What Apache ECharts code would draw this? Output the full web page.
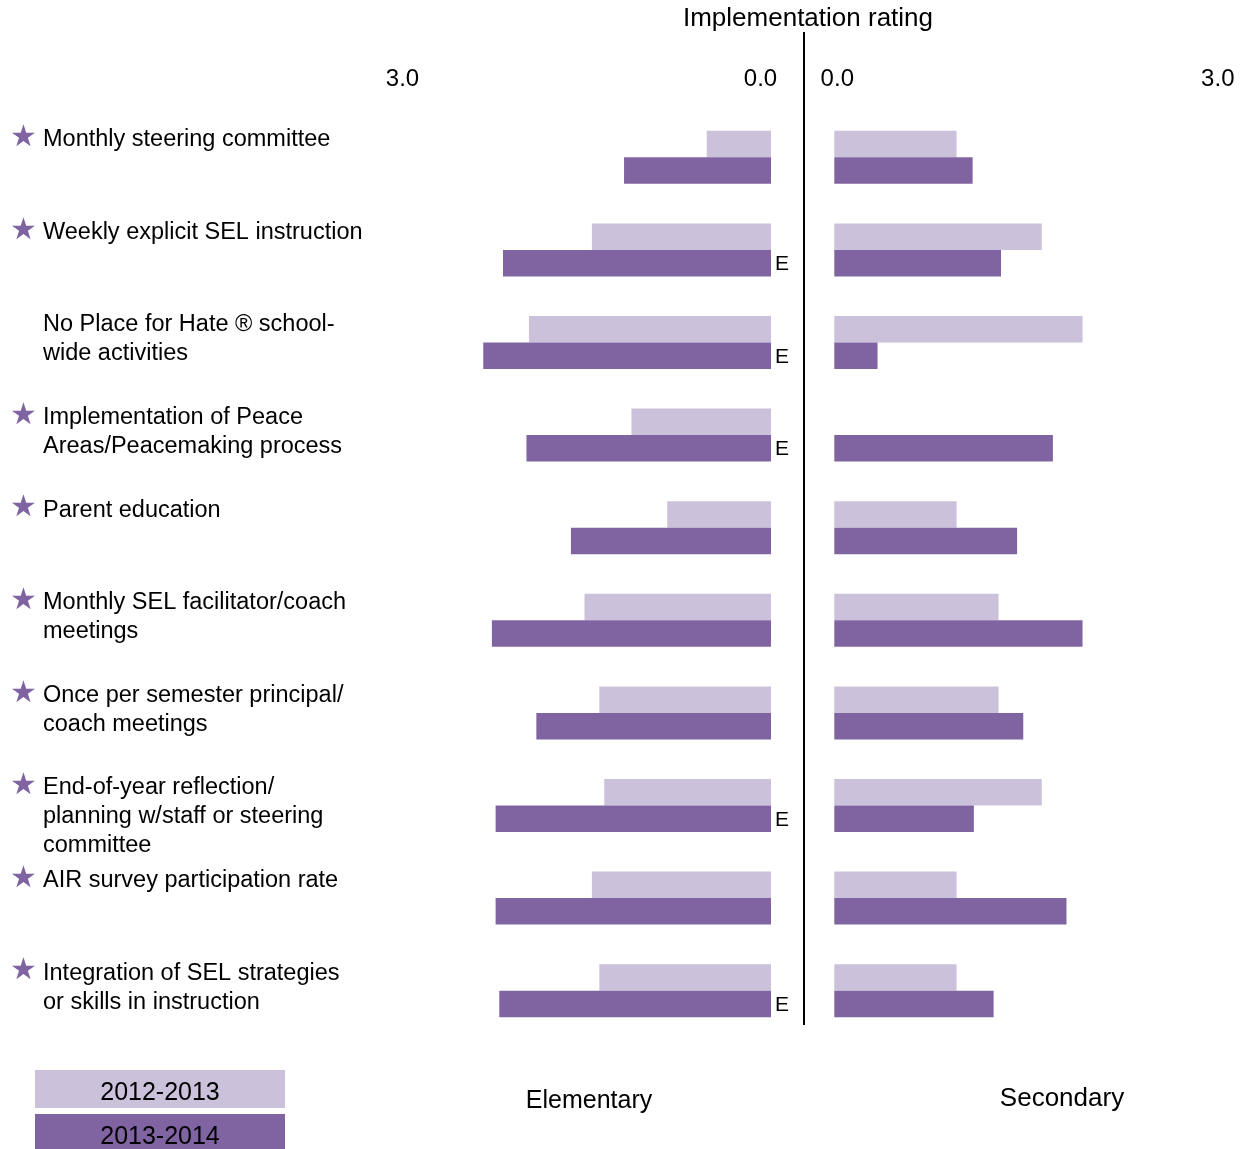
<!DOCTYPE html>
<html>
<head>
<meta charset="utf-8">
<script src="https://cdn.jsdelivr.net/npm/echarts@6/dist/echarts.min.js"></script>
<style>
html,body{margin:0;padding:0;background:#fff;}
#chart{width:1243px;height:1149px;}
</style>
</head>
<body>
<div id="chart"></div>
<script>
// ---- data ----
const categories = [
  'Monthly steering committee',
  'Weekly explicit SEL instruction',
  'No Place for Hate \u00ae school-\nwide activities',
  'Implementation of Peace\nAreas/Peacemaking process',
  'Parent education',
  'Monthly SEL facilitator/coach\nmeetings',
  'Once per semester principal/\ncoach meetings',
  'End-of-year reflection/\nplanning w/staff or steering\ncommittee',
  'AIR survey participation rate',
  'Integration of SEL strategies\nor skills in instruction'
];
const starred = [true, true, false, true, true, true, true, true, true, true];
const seriesNames = ['2012-2013', '2013-2014'];
const elementary2012 = [0.52, 1.45, 1.96, 1.13, 0.84, 1.51, 1.39, 1.35, 1.45, 1.39];
const elementary2013 = [1.19, 2.17, 2.33, 1.98, 1.62, 2.26, 1.90, 2.23, 2.23, 2.20];
const secondary2012 = [0.99, 1.68, 2.01, 0, 0.99, 1.33, 1.33, 1.68, 0.99, 0.99];
const secondary2013 = [1.12, 1.35, 0.35, 1.77, 1.48, 2.01, 1.53, 1.13, 1.88, 1.29];
const elementaryNotes = ['', 'E', 'E', 'E', '', '', '', 'E', '', 'E'];
const axisMin = 0, axisMax = 3;
const titleText = 'Implementation rating';
const panelNames = ['Elementary', 'Secondary'];

// ---- styles ----
const FONT = 'Liberation Sans';
const LIGHT = '#cbc1da';
const DARK = '#8064a2';

const chart = echarts.init(document.getElementById('chart'), null, {renderer: 'canvas'});

function tickFmt(side) {
  return function (v) {
    const s = Number(v).toFixed(1);
    return (v === axisMin ? '{' + side + 'min|' : '{' + side + 'max|') + s + '}';
  };
}
const tickBase = {fontFamily: FONT, fontSize: 24, color: '#000'};

function catLabel(value, index) {
  const lines = String(value).split('\n');
  return lines.map((ln, i) => (i === 0 && starred[index] ? '{s|\u2605}' : '{h|\u2605}') + '{t|' + ln + '}').join('\n');
}

const barCommon = {type: 'bar', barWidth: 26.5, barGap: '0%'};

function legendFor(idx, top, bg) {
  return {
    orient: 'vertical', left: 25, top: top, itemWidth: 0, itemHeight: 0,
    selectedMode: false, data: [seriesNames[idx]],
    itemStyle: {opacity: 0},
    formatter: name => '{a|' + name + '}',
    textStyle: {
      rich: {
        a: {width: 250, height: 30, lineHeight: 30, padding: [8, 0, 0, 0], align: 'center', backgroundColor: bg, fontFamily: FONT, fontSize: 25, color: '#000'}
      }
    }
  };
}

const option = {
  animation: false,
  backgroundColor: '#fff',
  grid: [
    {left: 400.5, top: 111, width: 370.5, height: 926, outerBoundsMode: 'none'},
    {left: 834.3, top: 111, width: 370.5, height: 926, outerBoundsMode: 'none'},
    {left: 400, top: 79, width: 10, height: 926, outerBoundsMode: 'none'}
  ],
  xAxis: [
    {gridIndex: 0, type: 'value', inverse: true, min: axisMin, max: axisMax, interval: 3, position: 'top',
      axisLine: {show: false}, axisTick: {show: false}, splitLine: {show: false},
      axisLabel: {margin: 20, formatter: tickFmt('l'),
        rich: {lmin: Object.assign({padding: [0, 21, 0, 0]}, tickBase), lmax: Object.assign({padding: [0, 0, 0, 4]}, tickBase)}}},
    {gridIndex: 1, type: 'value', min: axisMin, max: axisMax, interval: 3, position: 'top',
      axisLine: {show: false}, axisTick: {show: false}, splitLine: {show: false},
      axisLabel: {margin: 20, formatter: tickFmt('r'),
        rich: {rmin: Object.assign({padding: [0, 0, 0, 6]}, tickBase), rmax: Object.assign({padding: [0, 0, 0, 26]}, tickBase)}}},
    {gridIndex: 2, type: 'value', show: false, min: 0, max: 1}
  ],
  yAxis: [
    {gridIndex: 0, type: 'category', data: categories, inverse: true, show: false},
    {gridIndex: 1, type: 'category', data: categories, inverse: true, show: false},
    {gridIndex: 2, type: 'category', data: categories, inverse: true, position: 'left',
      axisLine: {show: false}, axisTick: {show: false}, splitLine: {show: false},
      axisLabel: {show: true, interval: 0, align: 'left', verticalAlign: 'top', margin: 390,
        formatter: catLabel,
        rich: {
          t: {fontFamily: FONT, fontSize: 23.5, lineHeight: 29, color: '#000'},
          s: {fontFamily: 'DejaVu Sans', fontSize: 30, lineHeight: 29, color: DARK, width: 33, padding: [0, 0, 3, 0]},
          h: {fontFamily: 'DejaVu Sans', fontSize: 30, lineHeight: 29, color: 'rgba(0,0,0,0)', width: 33, padding: [0, 0, 3, 0]}
        }}}
  ],
  legend: [legendFor(0, 1065, LIGHT), legendFor(1, 1109, DARK)],
  graphic: [
    {type: 'line', shape: {x1: 804, y1: 32, x2: 804, y2: 1025}, style: {stroke: '#000', lineWidth: 2}},
    {type: 'text', x: 808, y: 19, style: {text: titleText, fill: '#000', font: '26px "' + FONT + '"', textAlign: 'center', textVerticalAlign: 'middle'}},
    {type: 'text', x: 589, y: 1101, style: {text: panelNames[0], fill: '#000', font: '25px "' + FONT + '"', textAlign: 'center', textVerticalAlign: 'middle'}},
    {type: 'text', x: 1062, y: 1099, style: {text: panelNames[1], fill: '#000', font: '26px "' + FONT + '"', textAlign: 'center', textVerticalAlign: 'middle'}}
  ],
  series: [
    Object.assign({}, barCommon, {name: seriesNames[0], xAxisIndex: 0, yAxisIndex: 0, data: elementary2012, itemStyle: {color: LIGHT}}),
    Object.assign({}, barCommon, {name: seriesNames[1], xAxisIndex: 0, yAxisIndex: 0, itemStyle: {color: DARK},
      data: elementary2013.map((v, i) => ({value: v, label: {show: elementaryNotes[i] !== ''}})),
      label: {position: 'right', distance: 4, formatter: p => elementaryNotes[p.dataIndex], fontFamily: FONT, fontSize: 21, color: '#000', offset: [0, 1]}}),
    Object.assign({}, barCommon, {name: seriesNames[0], xAxisIndex: 1, yAxisIndex: 1, data: secondary2012, itemStyle: {color: LIGHT}}),
    Object.assign({}, barCommon, {name: seriesNames[1], xAxisIndex: 1, yAxisIndex: 1, data: secondary2013, itemStyle: {color: DARK}})
  ]
};
chart.setOption(option);
</script>
</body>
</html>
